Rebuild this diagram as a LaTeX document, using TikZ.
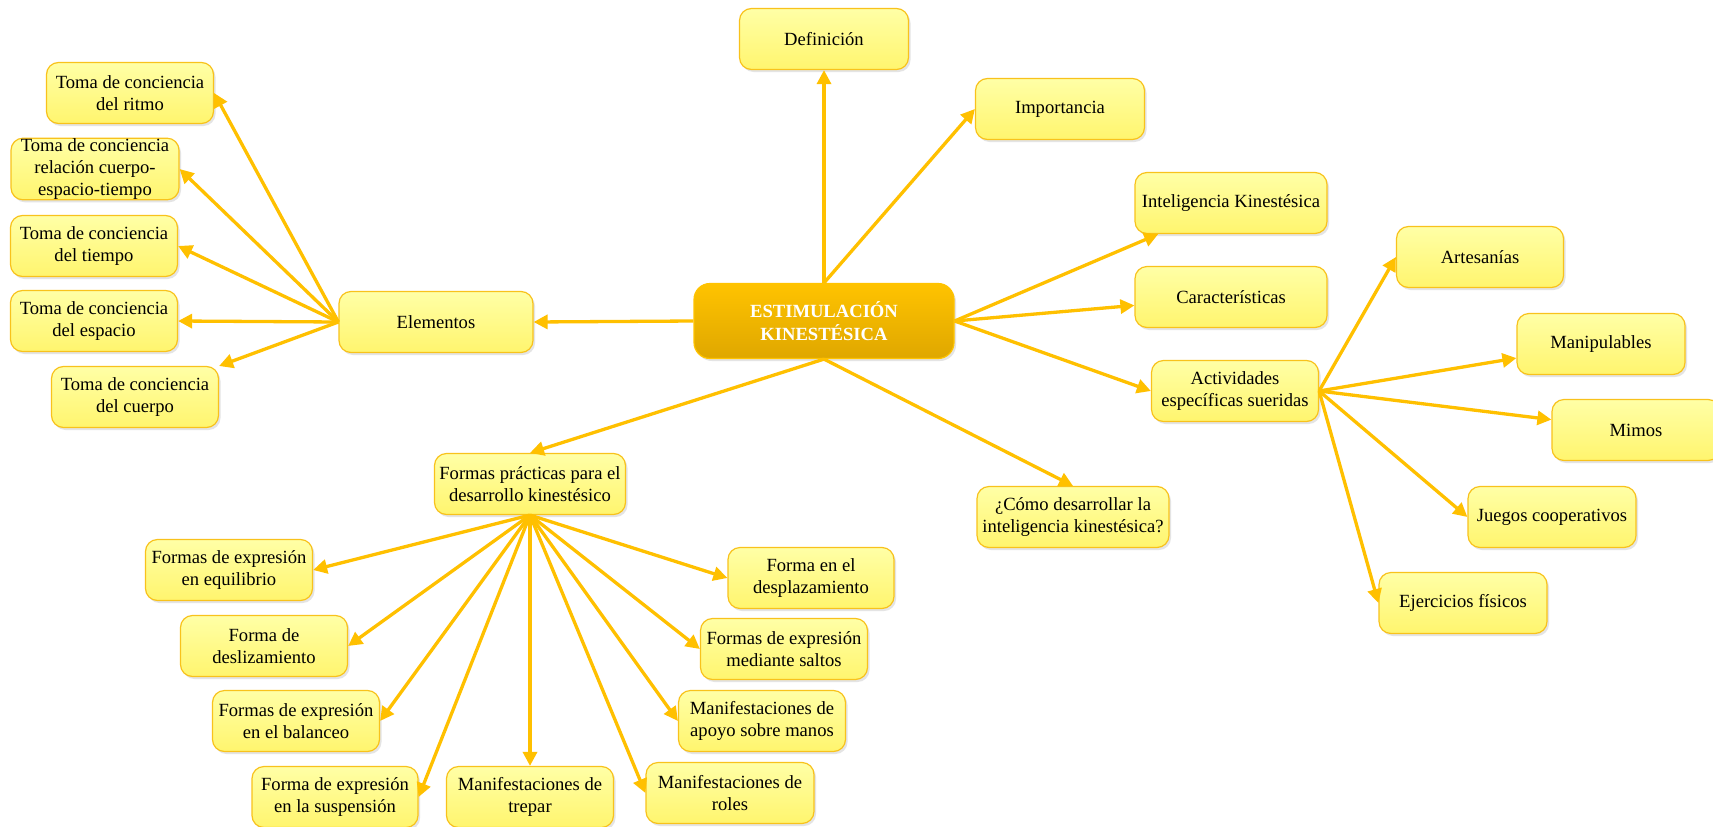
\documentclass[tikz,border=0pt]{standalone}
\usepackage{fontspec}
\setmainfont{Liberation Serif}
\usetikzlibrary{arrows.meta,shadows}
\definecolor{arrowc}{HTML}{FFC000}
\definecolor{boxline}{HTML}{F8C21C}
\definecolor{boxtop}{HTML}{FFFFA6}
\definecolor{boxbot}{HTML}{FFF56E}
\definecolor{ctop}{HTML}{FFC300}
\definecolor{cbot}{HTML}{DFA700}
\tikzset{
  bx/.style={draw=boxline, line width=1.2pt, rounded corners=12pt,
    top color=boxtop, bottom color=boxbot, align=center, inner sep=0pt,
    minimum height=61pt, minimum width=168pt,
    font=\fontsize{18.6}{22.4}\selectfont,
    drop shadow={shadow xshift=2pt, shadow yshift=-2.5pt, fill=black!30, opacity=0.35}},
  central/.style={draw=ctop, line width=1.2pt, rounded corners=16pt,
    top color=ctop, bottom color=cbot, align=center, inner sep=0pt,
    minimum height=75pt, minimum width=260pt, text=white,
    font=\fontsize{18.6}{22.4}\selectfont\bfseries,
    drop shadow={shadow xshift=2pt, shadow yshift=-2.5pt, fill=black!30, opacity=0.35}},
  conn/.style={draw=arrowc, line width=3.3pt, -{Triangle[length=14pt,width=14pt]}}
}
\begin{document}
\begin{tikzpicture}[x=1pt,y=-1pt]
\useasboundingbox[fill=white] (0,0) rectangle (1713,827);
% central
\node[central] (c) at (824,321) {ESTIMULACIÓN\\KINESTÉSICA};
% top / right
\node[bx, minimum width=169pt] (def) at (824,39) {Definición};
\node[bx, minimum width=169pt] (imp) at (1060,109) {Importancia};
\node[bx, minimum width=192pt] (intel) at (1231,203) {Inteligencia Kinestésica};
\node[bx, minimum width=192pt] (carac) at (1231,297) {Características};
\node[bx, minimum width=167pt] (act) at (1235,391) {Actividades\\específicas sueridas};
\node[bx, minimum width=192pt] (como) at (1073,517) {¿Cómo desarrollar la\\inteligencia kinestésica?};
\node[bx, minimum width=167pt] (art) at (1480,257) {Artesanías};
\node[bx] (mani) at (1601,344) {Manipulables};
\node[bx] (mimos) at (1636,430) {Mimos};
\node[bx] (juegos) at (1552,517) {Juegos cooperativos};
\node[bx] (ejer) at (1463,603) {Ejercicios físicos};
% left
\node[bx, minimum width=194pt] (elem) at (436,322) {Elementos};
\node[bx, minimum width=167pt] (ritmo) at (130,93) {Toma de conciencia\\del ritmo};
\node[bx] (relac) at (95,169) {Toma de conciencia\\relación cuerpo-\\espacio-tiempo};
\node[bx, minimum width=167pt] (tiempo) at (94,246) {Toma de conciencia\\del tiempo};
\node[bx, minimum width=167pt] (espacio) at (94,321) {Toma de conciencia\\del espacio};
\node[bx, minimum width=167pt] (cuerpo) at (135,397) {Toma de conciencia\\del cuerpo};
% bottom
\node[bx, minimum width=191pt] (fp) at (530,484) {Formas prácticas para el\\desarrollo kinestésico};
\node[bx, minimum width=167pt] (equil) at (229,570) {Formas de expresión\\en equilibrio};
\node[bx, minimum width=167pt] (desliz) at (264,646) {Forma de\\deslizamiento};
\node[bx, minimum width=167pt] (balan) at (296,721) {Formas de expresión\\en el balanceo};
\node[bx, minimum width=166pt] (susp) at (335,797) {Forma de expresión\\en la suspensión};
\node[bx, minimum width=167pt] (trepar) at (530,797) {Manifestaciones de\\trepar};
\node[bx] (roles) at (730,793) {Manifestaciones de\\roles};
\node[bx, minimum width=167pt] (apoyo) at (762,721) {Manifestaciones de\\apoyo sobre manos};
\node[bx, minimum width=167pt] (saltos) at (784,649) {Formas de expresión\\mediante saltos};
\node[bx, minimum width=166pt] (despl) at (811,578) {Forma en el\\desplazamiento};
% connectors from central
\draw[conn] (c.north) -- (def.south);
\draw[conn] (c.north) -- (imp.west);
\draw[conn] (c.east) -- (intel);
\draw[conn] (c.east) -- (carac);
\draw[conn] (c.east) -- (act.west);
\draw[conn] (c.south) -- (como.north);
\draw[conn] (c.south) -- (fp.north);
\draw[conn] (c.west) -- (elem.east);
% actividades
\draw[conn] (act.east) -- (art.west);
\draw[conn] (act.east) -- (mani);
\draw[conn] (act.east) -- (mimos);
\draw[conn] (act.east) -- (juegos.west);
\draw[conn] (act.east) -- (ejer.west);
% elementos
\draw[conn] (elem.west) -- (ritmo.east);
\draw[conn] (elem.west) -- (relac.east);
\draw[conn] (elem.west) -- (tiempo.east);
\draw[conn] (elem.west) -- (espacio.east);
\draw[conn] (elem.west) -- (cuerpo);
% formas practicas
\draw[conn] (fp.south) -- (equil.east);
\draw[conn] (fp.south) -- (desliz.east);
\draw[conn] (fp.south) -- (balan.east);
\draw[conn] (fp.south) -- (susp.east);
\draw[conn] (fp.south) -- (trepar.north);
\draw[conn] (fp.south) -- (roles.west);
\draw[conn] (fp.south) -- (apoyo.west);
\draw[conn] (fp.south) -- (saltos.west);
\draw[conn] (fp.south) -- (despl.west);
\end{tikzpicture}
\end{document}
